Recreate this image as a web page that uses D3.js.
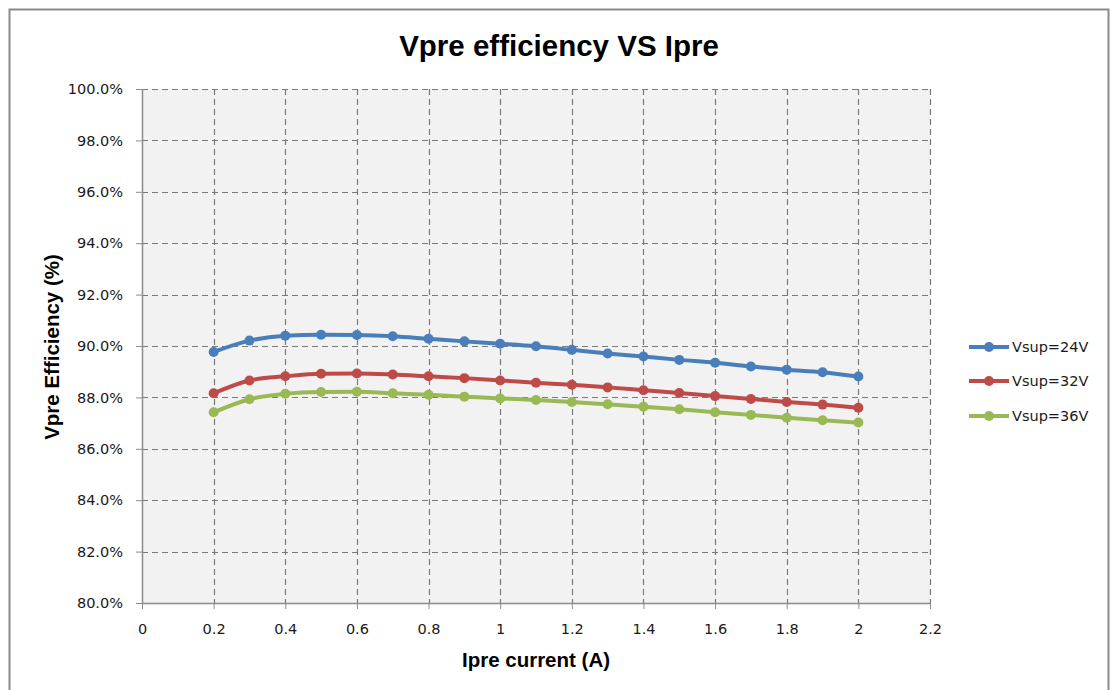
<!DOCTYPE html>
<html>
<head>
<meta charset="utf-8">
<script src="https://cdn.jsdelivr.net/npm/d3@7"></script>
<style>
  body { margin: 0; background: #fff; }
  svg { display: block; }
</style>
</head>
<body>
<script>
// chart data
const current = [0.2, 0.3, 0.4, 0.5, 0.6, 0.7, 0.8, 0.9, 1.0, 1.1, 1.2, 1.3, 1.4, 1.5, 1.6, 1.7, 1.8, 1.9, 2.0];
const eff24 = [89.77, 90.21, 90.40, 90.44, 90.43, 90.38, 90.28, 90.18, 90.09, 89.99, 89.85, 89.71, 89.59, 89.46, 89.35, 89.20, 89.08, 88.98, 88.81];
const eff32 = [88.16, 88.66, 88.82, 88.92, 88.93, 88.89, 88.82, 88.75, 88.66, 88.57, 88.49, 88.39, 88.28, 88.17, 88.05, 87.94, 87.82, 87.72, 87.60];
const eff36 = [87.42, 87.93, 88.14, 88.21, 88.22, 88.16, 88.10, 88.03, 87.96, 87.90, 87.82, 87.73, 87.64, 87.54, 87.42, 87.32, 87.21, 87.11, 87.02];
const seriesNames = ['Vsup=24V', 'Vsup=32V', 'Vsup=36V'];
const xTicks = [0, 0.2, 0.4, 0.6, 0.8, 1.0, 1.2, 1.4, 1.6, 1.8, 2.0, 2.2];
const yTicks = [80, 82, 84, 86, 88, 90, 92, 94, 96, 98, 100];

const colors = ['#4a7ebb', '#be4b48', '#98b954'];
const series = [eff24, eff32, eff36].map((vals, i) => ({
  name: seriesNames[i],
  color: colors[i],
  points: current.map((x, j) => ({ x: x, y: vals[j] }))
}));

const W = 1112, H = 690;
const plot = { left: 142, right: 930, top: 89, bottom: 603 };

const svg = d3.select('body').append('svg')
  .attr('width', W)
  .attr('height', H);

// outer chart frame
svg.append('rect')
  .attr('x', 9.5).attr('y', 9.5)
  .attr('width', 1099).attr('height', 700)
  .attr('fill', '#fff')
  .attr('stroke', '#8a8a8a')
  .attr('stroke-width', 2);

const x = d3.scaleLinear().domain([0, 2.2]).range([plot.left, plot.right]);
const y = d3.scaleLinear().domain([80, 100]).range([plot.bottom, plot.top]);

// plot background
svg.append('rect')
  .attr('x', plot.left).attr('y', plot.top)
  .attr('width', plot.right - plot.left)
  .attr('height', plot.bottom - plot.top)
  .attr('fill', '#f2f2f2');

// dashed grid
const grid = svg.append('g').attr('stroke', '#7a7a7a').attr('stroke-width', 1.2).attr('stroke-dasharray', '6,4');
grid.selectAll('.hg').data(yTicks.slice(1)).enter().append('line')
  .attr('x1', plot.left).attr('x2', plot.right)
  .attr('y1', d => Math.round(y(d)) + 0.5).attr('y2', d => Math.round(y(d)) + 0.5);
grid.selectAll('.vg').data(xTicks.slice(1)).enter().append('line')
  .attr('y1', plot.top).attr('y2', plot.bottom)
  .attr('x1', d => Math.round(x(d)) + 0.5).attr('x2', d => Math.round(x(d)) + 0.5);

// axes
const xAxis = d3.axisBottom(x).tickValues(xTicks).tickSize(6).tickSizeOuter(0)
  .tickFormat(d3.format('~g'));
const yAxis = d3.axisLeft(y).tickValues(yTicks).tickSize(6).tickSizeOuter(0)
  .tickFormat(d => d.toFixed(1) + '%');

const gx = svg.append('g')
  .attr('transform', `translate(0, ${plot.bottom})`)
  .call(xAxis);
const gy = svg.append('g')
  .attr('transform', `translate(${plot.left}, 0)`)
  .call(yAxis);

[gx, gy].forEach(g => {
  g.select('.domain').attr('stroke', '#8c8c8c').attr('stroke-width', 1.5);
  g.selectAll('.tick line').attr('stroke', '#8c8c8c');
  g.selectAll('.tick text')
    .attr('fill', '#1a1a1a')
    .style('font-family', 'DejaVu Sans, sans-serif')
    .style('font-size', '14.5px');
});
gx.selectAll('.tick text').attr('dy', '0').attr('y', 31);
gy.selectAll('.tick text').attr('x', -19);

// lines and markers
const line = d3.line().x(d => x(d.x)).y(d => y(d.y)).curve(d3.curveMonotoneX);
series.forEach(s => {
  svg.append('path')
    .datum(s.points)
    .attr('fill', 'none')
    .attr('stroke', s.color)
    .attr('stroke-width', 4)
    .attr('stroke-linejoin', 'round')
    .attr('d', line);
  svg.append('g').selectAll('circle')
    .data(s.points).enter().append('circle')
    .attr('cx', d => x(d.x))
    .attr('cy', d => y(d.y))
    .attr('r', 5)
    .attr('fill', s.color);
});

// titles
svg.append('text')
  .attr('x', 559).attr('y', 56)
  .attr('text-anchor', 'middle')
  .style('font-family', 'Liberation Sans, Arial, sans-serif')
  .style('font-weight', 'bold')
  .style('font-size', '29.5px')
  .text('Vpre efficiency VS Ipre');

svg.append('text')
  .attr('x', 536).attr('y', 667)
  .attr('text-anchor', 'middle')
  .style('font-family', 'Liberation Sans, Arial, sans-serif')
  .style('font-weight', 'bold')
  .style('font-size', '20.5px')
  .text('Ipre current (A)');

svg.append('text')
  .attr('transform', 'translate(59, 347) rotate(-90)')
  .attr('text-anchor', 'middle')
  .style('font-family', 'Liberation Sans, Arial, sans-serif')
  .style('font-weight', 'bold')
  .style('font-size', '20.5px')
  .text('Vpre Efficiency (%)');

// legend
const legend = svg.append('g');
const legendY = [347, 381, 416];
series.forEach((s, i) => {
  const g = legend.append('g').attr('transform', `translate(969, ${legendY[i]})`);
  g.append('line').attr('x1', 0).attr('x2', 40).attr('y1', 0).attr('y2', 0)
    .attr('stroke', s.color).attr('stroke-width', 4);
  g.append('circle').attr('cx', 20).attr('cy', 0).attr('r', 5).attr('fill', s.color);
  g.append('text')
    .attr('x', 43).attr('y', 0).attr('dy', '0.35em')
    .attr('fill', '#1a1a1a')
    .style('font-family', 'DejaVu Sans, sans-serif')
    .style('font-size', '14.5px')
    .text(s.name);
});
</script>
</body>
</html>
